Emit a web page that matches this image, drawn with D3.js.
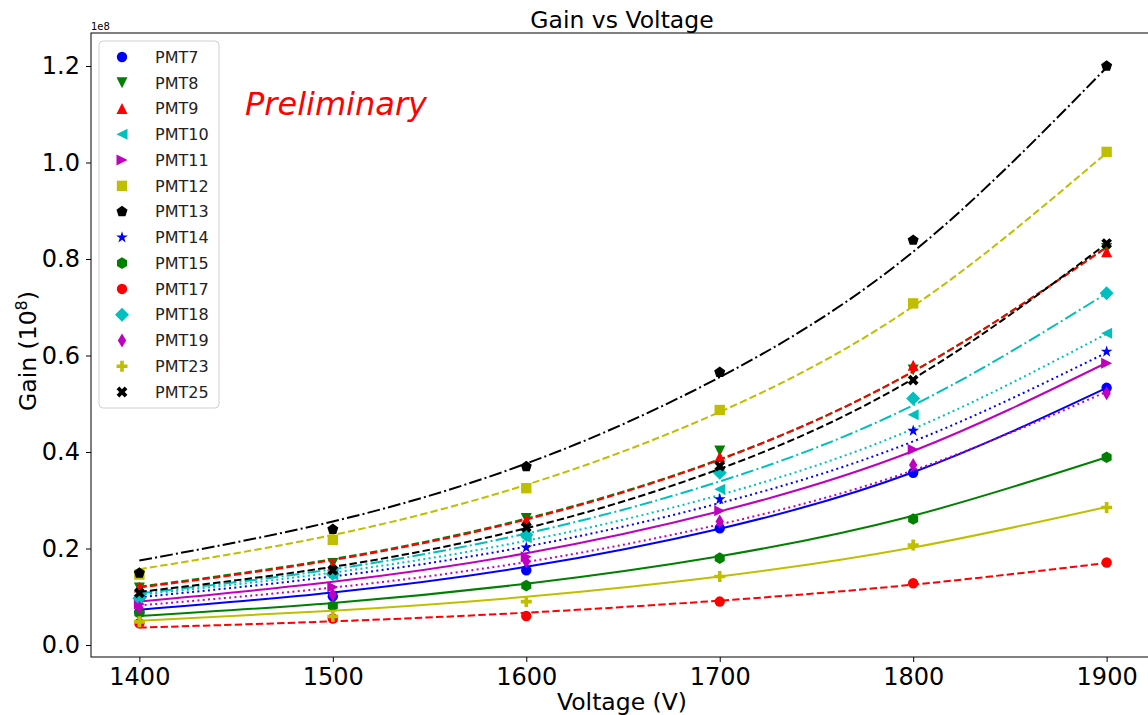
<!DOCTYPE html>
<html>
<head>
<meta charset="utf-8">
<script src="https://cdn.jsdelivr.net/npm/d3@7"></script>
<style>
  body { margin: 0; background: #fff; }
  svg { display: block; font-family: "DejaVu Sans", sans-serif; }
</style>
</head>
<body>
<svg id="chart" width="1148" height="715"></svg>
<script>
// Supply voltages (V)
const voltages = [1400, 1500, 1600, 1700, 1800, 1900];

// Measured gain per PMT, in units of 1e8
const gainPMT7  = [0.068, 0.101, 0.155, 0.242, 0.357, 0.533];
const gainPMT8  = [0.118, 0.169, 0.262, 0.402, 0.570, 0.822];
const gainPMT9  = [0.120, 0.166, 0.259, 0.390, 0.580, 0.815];
const gainPMT10 = [0.100, 0.145, 0.222, 0.323, 0.477, 0.646];
const gainPMT11 = [0.085, 0.120, 0.183, 0.278, 0.405, 0.584];
const gainPMT12 = [0.146, 0.218, 0.325, 0.487, 0.708, 1.022];
const gainPMT13 = [0.149, 0.240, 0.370, 0.565, 0.839, 1.200];
const gainPMT14 = [0.098, 0.150, 0.202, 0.302, 0.444, 0.608];
const gainPMT15 = [0.066, 0.081, 0.123, 0.180, 0.261, 0.389];
const gainPMT17 = [0.045, 0.055, 0.060, 0.090, 0.128, 0.171];
const gainPMT18 = [0.097, 0.147, 0.228, 0.357, 0.511, 0.729];
const gainPMT19 = [0.077, 0.104, 0.173, 0.256, 0.373, 0.522];
const gainPMT23 = [0.048, 0.059, 0.090, 0.142, 0.207, 0.285];
const gainPMT25 = [0.108, 0.155, 0.244, 0.371, 0.549, 0.832];

// Fitted gain curve values at the same voltages (1e8)
const fitPMT7  = [0.073, 0.109, 0.162, 0.241, 0.358, 0.533];
const fitPMT8  = [0.121, 0.178, 0.262, 0.385, 0.567, 0.825];
const fitPMT9  = [0.119, 0.176, 0.260, 0.384, 0.567, 0.824];
const fitPMT10 = [0.104, 0.150, 0.216, 0.311, 0.448, 0.645];
const fitPMT11 = [0.090, 0.131, 0.190, 0.277, 0.402, 0.585];
const fitPMT12 = [0.157, 0.228, 0.332, 0.483, 0.702, 1.020];
const fitPMT13 = [0.175, 0.256, 0.376, 0.555, 0.815, 1.197];
const fitPMT14 = [0.099, 0.142, 0.204, 0.294, 0.422, 0.606];
const fitPMT15 = [0.060, 0.087, 0.127, 0.184, 0.268, 0.389];
const fitPMT17 = [0.036, 0.049, 0.067, 0.092, 0.125, 0.170];
const fitPMT18 = [0.107, 0.157, 0.231, 0.339, 0.497, 0.729];
const fitPMT19 = [0.082, 0.119, 0.172, 0.250, 0.362, 0.525];
const fitPMT23 = [0.050, 0.071, 0.100, 0.142, 0.202, 0.286];
const fitPMT25 = [0.110, 0.162, 0.242, 0.365, 0.552, 0.832];

const pmtLabels = ["PMT7", "PMT8", "PMT9", "PMT10", "PMT11", "PMT12", "PMT13",
                   "PMT14", "PMT15", "PMT17", "PMT18", "PMT19", "PMT23", "PMT25"];
const gains = [gainPMT7, gainPMT8, gainPMT9, gainPMT10, gainPMT11, gainPMT12, gainPMT13,
               gainPMT14, gainPMT15, gainPMT17, gainPMT18, gainPMT19, gainPMT23, gainPMT25];
const fits  = [fitPMT7, fitPMT8, fitPMT9, fitPMT10, fitPMT11, fitPMT12, fitPMT13,
               fitPMT14, fitPMT15, fitPMT17, fitPMT18, fitPMT19, fitPMT23, fitPMT25];

const xTicks = [1400, 1500, 1600, 1700, 1800, 1900];
const yTicks = [0.0, 0.2, 0.4, 0.6, 0.8, 1.0, 1.2];

// Styles (colour, marker, line style) per PMT
const C = { b: "#0000ff", g: "#008000", r: "#ff0000", c: "#00bfbf", m: "#bf00bf", y: "#bfbf00", k: "#000000" };
const colors  = [C.b, C.g, C.r, C.c, C.m, C.y, C.k, C.b, C.g, C.r, C.c, C.m, C.y, C.k];
const markers = ["o", "v", "^", "<", ">", "s", "p", "*", "h", "o", "D", "d", "P", "X"];
const lineStyles = ["-", "--", "--", ":", "-", "--", "-.", ":", "-", "--", "-.", ":", "-", "--"];

const LW = 2;
const dashFor = { "-": null, "--": "7.4,3.2", ":": "2,3.3", "-.": "12.8,3.2,2,3.2" };

// Layout
const plot = { left: 91, right: 1155, top: 33, bottom: 657 };
const W = 1148, H = 715;

const svg = d3.select("#chart");

const x = d3.scaleLinear().domain([1375, 1925]).range([plot.left, plot.right]);
const y = d3.scaleLinear().domain([-0.0249, 1.2684]).range([plot.bottom, plot.top]);

// Marker path builders (centred at 0,0; svg y axis points down)
function poly(pts) { return "M" + pts.map(p => p[0].toFixed(2) + "," + p[1].toFixed(2)).join("L") + "Z"; }
function regular(n, r, rot) {
  const pts = [];
  for (let i = 0; i < n; i++) {
    const a = (rot + i * 360 / n) * Math.PI / 180;
    pts.push([r * Math.cos(a), r * Math.sin(a)]);
  }
  return pts;
}
function markerPath(m) {
  const R = 5.5;
  switch (m) {
    case "o": return d3.symbol(d3.symbolCircle, Math.PI * 5.2 * 5.2)();
    case "v": return poly([[0, R], [-R, -R], [R, -R]]);
    case "^": return poly([[0, -R], [-R, R], [R, R]]);
    case "<": return poly([[-R, 0], [R, -R], [R, R]]);
    case ">": return poly([[R, 0], [-R, -R], [-R, R]]);
    case "s": return poly([[-5.2, -5.2], [5.2, -5.2], [5.2, 5.2], [-5.2, 5.2]]);
    case "p": return poly(regular(5, 5.8, -90));
    case "h": return poly(regular(6, 5.8, -90));
    case "*": {
      const pts = [];
      for (let i = 0; i < 10; i++) {
        const r = i % 2 === 0 ? 6.2 : 6.2 * 0.382;
        const a = (-90 + i * 36) * Math.PI / 180;
        pts.push([r * Math.cos(a), r * Math.sin(a)]);
      }
      return poly(pts);
    }
    case "D": return poly([[0, -7], [7, 0], [0, 7], [-7, 0]]);
    case "d": return poly([[0, -7], [4.2, 0], [0, 7], [-4.2, 0]]);
    case "P": {
      const k = 11 / 6;
      return poly([[-1, -3], [1, -3], [1, -1], [3, -1], [3, 1], [1, 1], [1, 3], [-1, 3], [-1, 1], [-3, 1], [-3, -1], [-1, -1]]
        .map(p => [p[0] * k, p[1] * k]));
    }
    case "X": {
      const k = 2.7;
      return poly([[-1, -2], [0, -1], [1, -2], [2, -1], [1, 0], [2, 1], [1, 2], [0, 1], [-1, 2], [-2, 1], [-1, 0], [-2, -1]]
        .map(p => [p[0] * k, p[1] * k]));
    }
  }
}

// Clip everything to the axes area
svg.append("defs").append("clipPath").attr("id", "plotClip")
  .append("rect").attr("x", plot.left).attr("y", plot.top)
  .attr("width", plot.right - plot.left).attr("height", plot.bottom - plot.top);

const gPlot = svg.append("g").attr("clip-path", "url(#plotClip)");

const fitLine = d3.line()
  .x((d, i) => x(voltages[i]))
  .y(d => y(d))
  .curve(d3.curveNatural);

pmtLabels.forEach((label, s) => {
  const g = gPlot.append("g").attr("class", "series-" + label);
  g.selectAll("path.pt")
    .data(gains[s])
    .join("path")
    .attr("class", "pt")
    .attr("d", markerPath(markers[s]))
    .attr("transform", (d, i) => `translate(${x(voltages[i])},${y(d)})`)
    .attr("fill", colors[s]);
  g.append("path")
    .datum(fits[s])
    .attr("d", fitLine)
    .attr("fill", "none")
    .attr("stroke", colors[s])
    .attr("stroke-width", LW)
    .attr("stroke-dasharray", dashFor[lineStyles[s]])
    .attr("stroke-linecap", lineStyles[s] === "-" ? "square" : "butt");
});

// Axes frame
svg.append("rect")
  .attr("x", plot.left).attr("y", plot.top)
  .attr("width", plot.right - plot.left).attr("height", plot.bottom - plot.top)
  .attr("fill", "none").attr("stroke", "#000").attr("stroke-width", 1);

const xAxis = svg.append("g")
  .attr("transform", `translate(0,${plot.bottom})`)
  .call(d3.axisBottom(x).tickValues(xTicks).tickFormat(d3.format("d")).tickSize(5).tickPadding(6));
const yAxis = svg.append("g")
  .attr("transform", `translate(${plot.left},0)`)
  .call(d3.axisLeft(y).tickValues(yTicks).tickFormat(d3.format(".1f")).tickSize(5).tickPadding(6));
[xAxis, yAxis].forEach(a => {
  a.select(".domain").remove();
  a.selectAll(".tick line").attr("stroke", "#000").attr("stroke-width", 1);
  a.selectAll(".tick text").attr("fill", "#000")
    .style("font-family", "DejaVu Sans, sans-serif").style("font-size", "24px");
});

// Offset label above the y axis
svg.append("text").attr("x", plot.left).attr("y", 30)
  .style("font-size", "10px").text("1e8");

// Title
svg.append("text").attr("x", 622).attr("y", 28)
  .attr("text-anchor", "middle").style("font-size", "23.5px").text("Gain vs Voltage");

// Axis labels
svg.append("text").attr("x", 622).attr("y", 710)
  .attr("text-anchor", "middle").style("font-size", "23.5px").text("Voltage (V)");

const yl = svg.append("text")
  .attr("transform", "translate(36,351) rotate(-90)")
  .attr("text-anchor", "middle").style("font-size", "23.5px");
yl.append("tspan").text("Gain (10");
yl.append("tspan").attr("dy", -9).style("font-size", "16px").text("8");
yl.append("tspan").attr("dy", 9).text(")");

// Preliminary watermark
svg.append("text").attr("x", 245).attr("y", 115)
  .attr("fill", "#ff0000").style("font-size", "32px").style("font-style", "italic")
  .text("Preliminary");

// Legend
const leg = svg.append("g");
leg.append("rect")
  .attr("x", 99).attr("y", 41).attr("width", 120).attr("height", 367).attr("rx", 4)
  .attr("fill", "#fff").attr("fill-opacity", 0.8)
  .attr("stroke", "#d0d0d0").attr("stroke-width", 1);
const rowH = 25.77;
pmtLabels.forEach((label, s) => {
  const cy = 57 + s * rowH;
  leg.append("path").attr("d", markerPath(markers[s]))
    .attr("transform", `translate(122,${cy})`).attr("fill", colors[s]);
  leg.append("text").attr("x", 155).attr("y", cy).attr("dy", "0.36em")
    .style("font-size", "16px").attr("fill", "#222").text(label);
});
</script>
</body>
</html>
